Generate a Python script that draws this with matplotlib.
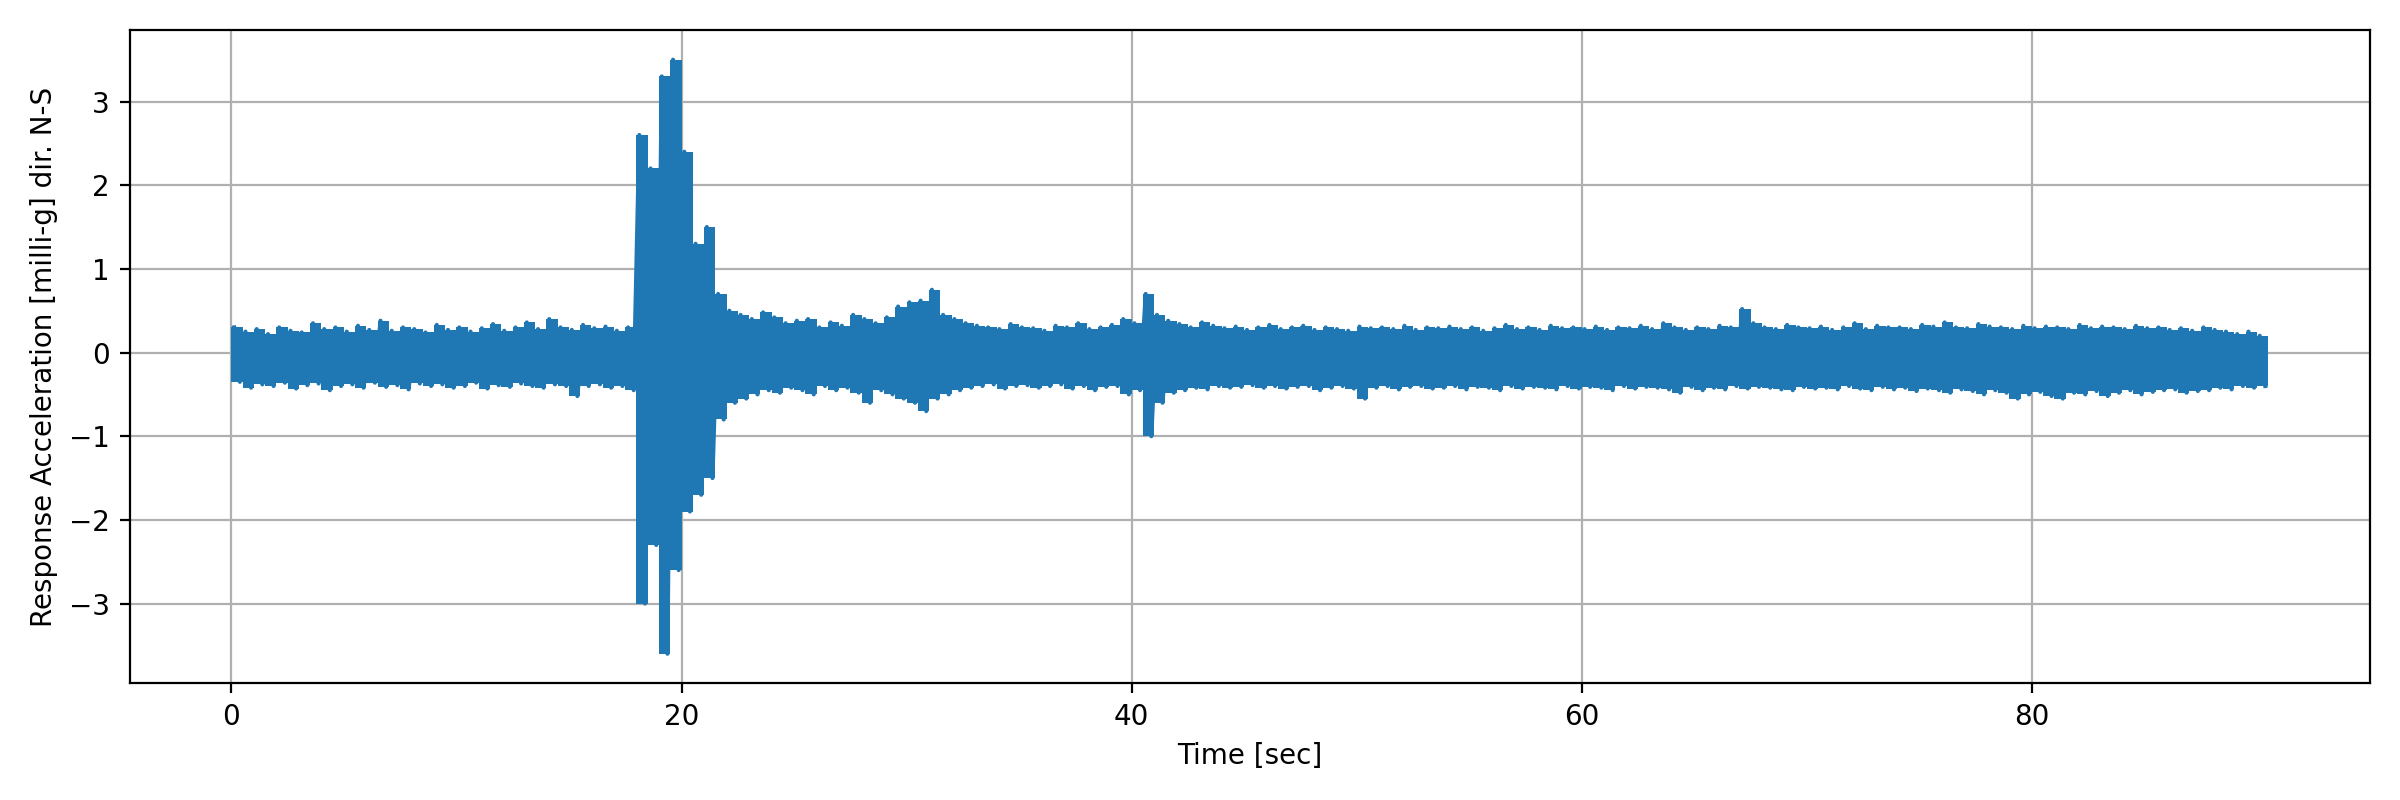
import matplotlib
matplotlib.use("Agg")
import matplotlib.pyplot as plt
import numpy as np

# Peak values per 0.5 s window (milli-g)
bin_width = 0.5
peak_max = [0.30,0.25,0.28,0.22,0.30,0.26,0.24,0.35,0.28,0.30,0.25,0.32,0.27,0.38,0.26,0.30,0.28,0.24,
            0.33,0.27,0.30,0.25,0.29,0.34,0.26,0.30,0.36,0.28,0.40,0.30,0.27,0.33,0.29,0.31,0.26,0.30,
            2.60,2.20,3.30,3.50,2.40,1.30,1.50,0.70,0.50,0.45,0.40,0.48,0.42,0.35,0.38,0.40,0.30,0.36,
            0.32,0.45,0.40,0.35,0.42,0.55,0.60,0.62,0.75,0.45,0.40,0.35,0.32,0.30,0.28,0.34,0.30,0.29,
            0.26,0.32,0.30,0.35,0.28,0.30,0.33,0.40,0.35,0.70,0.45,0.38,0.34,0.30,0.36,0.32,0.29,0.31,
            0.27,0.30,0.33,0.28,0.30,0.32,0.27,0.30,0.28,0.26,0.31,0.29,0.30,0.28,0.32,0.27,0.30,0.29,
            0.31,0.28,0.30,0.26,0.29,0.33,0.28,0.30,0.27,0.32,0.29,0.30,0.28,0.31,0.27,0.30,0.29,0.32,
            0.28,0.35,0.30,0.27,0.30,0.28,0.32,0.30,0.52,0.35,0.30,0.28,0.33,0.30,0.29,0.31,0.27,0.30,
            0.35,0.28,0.32,0.30,0.30,0.28,0.33,0.31,0.36,0.30,0.29,0.34,0.31,0.30,0.28,0.32,0.29,0.31,
            0.30,0.28,0.33,0.29,0.31,0.30,0.28,0.32,0.29,0.30,0.27,0.29,0.26,0.30,0.27,0.25,0.22,0.25,
            0.20]
peak_min = [-0.35,-0.42,-0.38,-0.40,-0.36,-0.43,-0.39,-0.37,-0.45,-0.40,-0.38,-0.42,-0.36,-0.41,-0.39,-0.44,-0.37,-0.40,
            -0.38,-0.42,-0.40,-0.36,-0.43,-0.39,-0.41,-0.37,-0.40,-0.42,-0.38,-0.40,-0.52,-0.40,-0.38,-0.42,-0.40,-0.45,
            -3.00,-2.30,-3.60,-2.60,-1.90,-1.70,-1.50,-0.80,-0.60,-0.55,-0.50,-0.45,-0.48,-0.42,-0.45,-0.50,-0.40,-0.45,
            -0.42,-0.48,-0.60,-0.45,-0.50,-0.55,-0.60,-0.70,-0.55,-0.50,-0.45,-0.42,-0.40,-0.38,-0.43,-0.40,-0.39,-0.42,
            -0.40,-0.38,-0.43,-0.40,-0.45,-0.41,-0.40,-0.50,-0.45,-1.00,-0.60,-0.48,-0.45,-0.42,-0.44,-0.40,-0.42,-0.41,
            -0.39,-0.42,-0.40,-0.43,-0.41,-0.40,-0.45,-0.42,-0.40,-0.43,-0.55,-0.42,-0.40,-0.44,-0.41,-0.40,-0.43,-0.42,
            -0.40,-0.44,-0.41,-0.42,-0.45,-0.40,-0.43,-0.41,-0.42,-0.44,-0.40,-0.43,-0.41,-0.42,-0.45,-0.40,-0.43,-0.41,
            -0.42,-0.44,-0.48,-0.41,-0.45,-0.42,-0.44,-0.40,-0.43,-0.41,-0.42,-0.44,-0.45,-0.41,-0.43,-0.42,-0.44,-0.40,
            -0.43,-0.45,-0.41,-0.44,-0.42,-0.46,-0.43,-0.45,-0.48,-0.44,-0.46,-0.50,-0.45,-0.48,-0.55,-0.50,-0.47,-0.52,
            -0.55,-0.48,-0.50,-0.46,-0.52,-0.48,-0.45,-0.50,-0.47,-0.45,-0.44,-0.48,-0.46,-0.45,-0.42,-0.44,-0.40,-0.42,
            -0.40]

n = min(len(peak_max), len(peak_min))
t_edges = [i * bin_width for i in range(n)] + [n * bin_width]
up = peak_max[:n] + [peak_max[n - 1]]
lo = peak_min[:n] + [peak_min[n - 1]]

t, v = [], []
for i in range(n):
    t0 = i * bin_width
    t += [t0 + bin_width * 0.25, t0 + bin_width * 0.75]
    v += [peak_max[i], peak_min[i]]

color = "#1f77b4"
fig, ax = plt.subplots(figsize=(12, 4), dpi=200)
ax.fill_between(t_edges, lo, up, step="post", color=color, lw=0)
ax.plot(t, v, color=color, lw=1.5)
ax.set_xlabel("Time [sec]")
ax.set_ylabel("Response Acceleration [milli-g] dir. N-S")
ax.grid(True)
ax.set_axisbelow(True)
fig.tight_layout()
fig.savefig("out.png")
